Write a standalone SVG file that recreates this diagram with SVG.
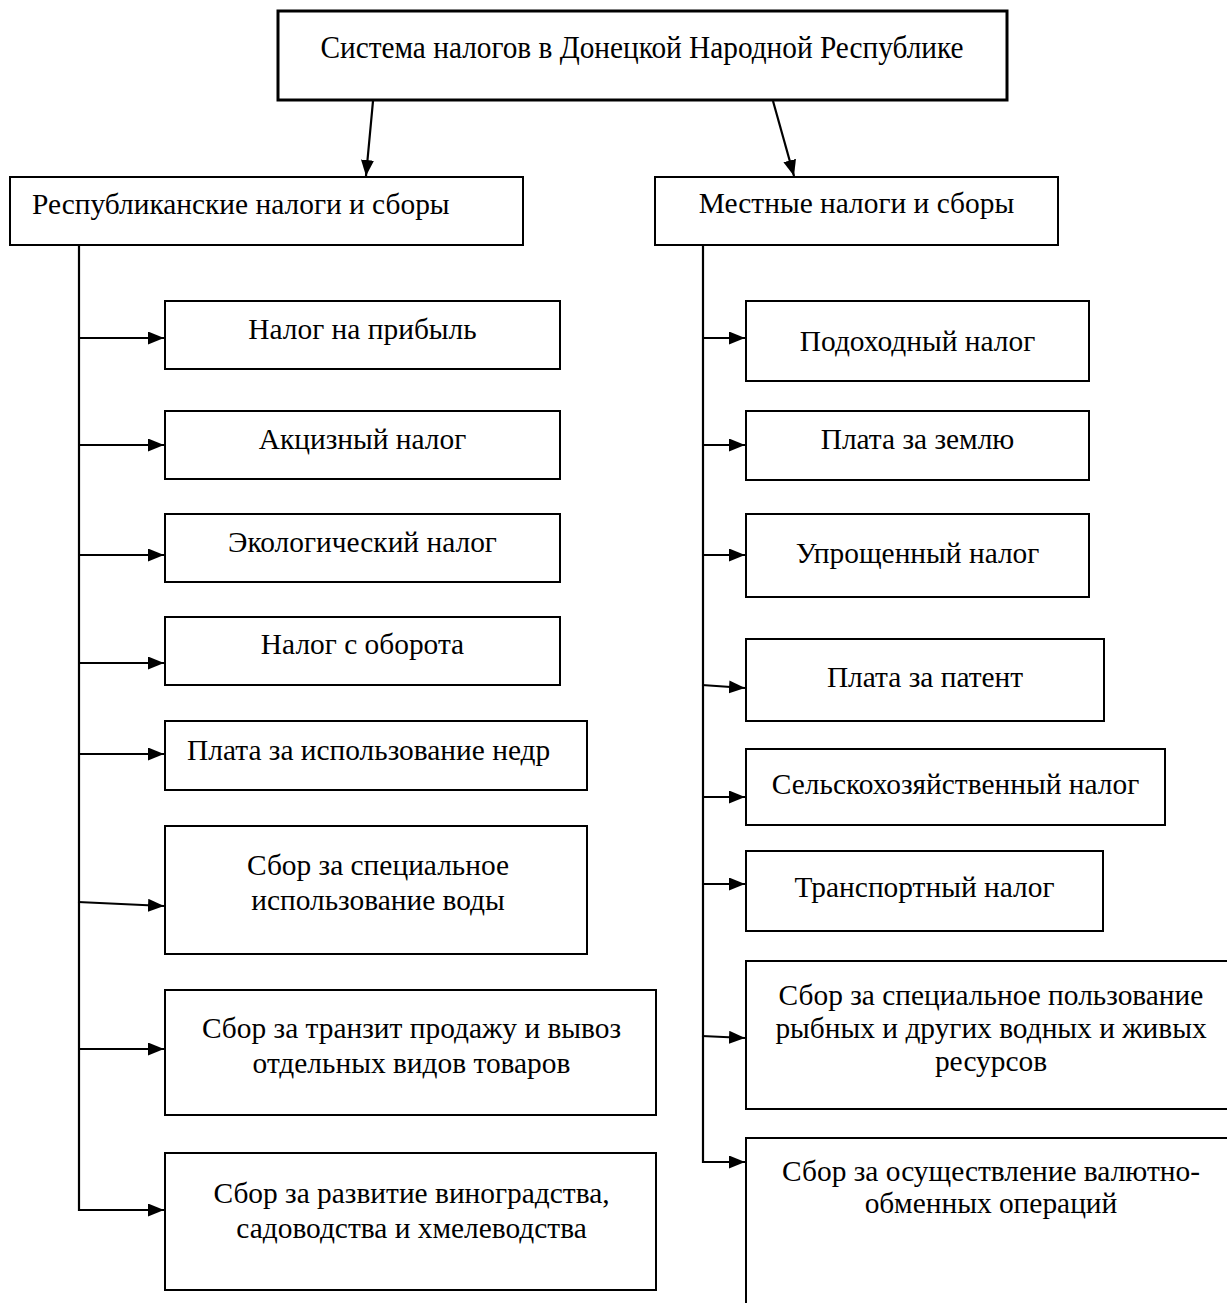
<svg xmlns="http://www.w3.org/2000/svg" width="1227" height="1303" viewBox="0 0 1227 1303">
<style>
.box{fill:#fff;stroke:#000;stroke-width:2}
.t{font-family:"Liberation Serif","Times New Roman",serif;font-size:29.4px;fill:#000;text-anchor:middle}
.c{stroke:#000;stroke-width:2.2;fill:none}
</style>
<defs>
<marker id="ah" markerUnits="userSpaceOnUse" markerWidth="18" markerHeight="14" refX="16" refY="6.5" orient="auto">
<path d="M0,0 L16,6.5 L0,13 z" fill="#000"/>
</marker>
</defs>
<rect width="1227" height="1303" fill="#fff"/>

<g id="root">
<rect class="box" x="278" y="11" width="729" height="89" style="stroke-width:3"/>
<text class="t" x="642" y="58" textLength="643" lengthAdjust="spacingAndGlyphs" style="font-size:32px">Система налогов в Донецкой Народной Республике</text>
</g>

<g id="rep">
<rect class="box" x="10" y="177" width="513" height="68"/>
<text class="t" x="32" y="214" style="text-anchor:start">Республиканские налоги и сборы</text>
</g>
<g id="loc">
<rect class="box" x="655" y="177" width="403" height="68"/>
<text class="t" x="856.5" y="213">Местные налоги и сборы</text>
</g>

<g id="r1"><rect class="box" x="165" y="301" width="395" height="68"/><text class="t" x="362.5" y="339">Налог на прибыль</text></g>
<g id="r2"><rect class="box" x="165" y="411" width="395" height="68"/><text class="t" x="362.5" y="449">Акцизный налог</text></g>
<g id="r3"><rect class="box" x="165" y="514" width="395" height="68"/><text class="t" x="362.5" y="552">Экологический налог</text></g>
<g id="r4"><rect class="box" x="165" y="617" width="395" height="68"/><text class="t" x="362.5" y="654">Налог с оборота</text></g>
<g id="r5"><rect class="box" x="165" y="721" width="422" height="69"/><text class="t" x="187" y="760" style="text-anchor:start">Плата за использование недр</text></g>
<g id="r6"><rect class="box" x="165" y="826" width="422" height="128"/><text class="t" x="378" y="875">Сбор за специальное</text><text class="t" x="378" y="910">использование воды</text></g>
<g id="r7"><rect class="box" x="165" y="990" width="491" height="125"/><text class="t" x="411.5" y="1038">Сбор за транзит продажу и вывоз</text><text class="t" x="411.5" y="1073">отдельных видов товаров</text></g>
<g id="r8"><rect class="box" x="165" y="1153" width="491" height="137"/><text class="t" x="411.5" y="1203">Сбор за развитие виноградства,</text><text class="t" x="411.5" y="1238">садоводства и хмелеводства</text></g>

<g id="l1"><rect class="box" x="746" y="301" width="343" height="80"/><text class="t" x="917.5" y="351">Подоходный налог</text></g>
<g id="l2"><rect class="box" x="746" y="411" width="343" height="69"/><text class="t" x="917.5" y="449">Плата за землю</text></g>
<g id="l3"><rect class="box" x="746" y="514" width="343" height="83"/><text class="t" x="917.5" y="563">Упрощенный налог</text></g>
<g id="l4"><rect class="box" x="746" y="639" width="358" height="82"/><text class="t" x="925" y="687">Плата за патент</text></g>
<g id="l5"><rect class="box" x="746" y="749" width="419" height="76"/><text class="t" x="955.5" y="794">Сельскохозяйственный налог</text></g>
<g id="l6"><rect class="box" x="746" y="851" width="357" height="80"/><text class="t" x="924.5" y="897">Транспортный налог</text></g>
<g id="l7"><rect class="box" x="746" y="961" width="492" height="148"/><text class="t" x="991" y="1005">Сбор за специальное пользование</text><text class="t" x="991" y="1038">рыбных и других водных и живых</text><text class="t" x="991" y="1071">ресурсов</text></g>
<g id="l8"><rect class="box" x="746" y="1138" width="492" height="180"/><text class="t" x="991" y="1181">Сбор за осуществление валютно-</text><text class="t" x="991" y="1213">обменных операций</text></g>

<g id="connectors">
<line class="c" x1="373" y1="101" x2="366" y2="176" marker-end="url(#ah)"/>
<line class="c" x1="773" y1="101" x2="794" y2="176" marker-end="url(#ah)"/>
<line class="c" x1="79" y1="245" x2="79" y2="1211"/>
<line class="c" x1="78" y1="338" x2="164" y2="338" marker-end="url(#ah)"/>
<line class="c" x1="78" y1="445" x2="164" y2="445" marker-end="url(#ah)"/>
<line class="c" x1="78" y1="555" x2="164" y2="555" marker-end="url(#ah)"/>
<line class="c" x1="78" y1="663" x2="164" y2="663" marker-end="url(#ah)"/>
<line class="c" x1="78" y1="754" x2="164" y2="754" marker-end="url(#ah)"/>
<line class="c" x1="78" y1="902" x2="164" y2="906" marker-end="url(#ah)"/>
<line class="c" x1="78" y1="1049" x2="164" y2="1049" marker-end="url(#ah)"/>
<line class="c" x1="78" y1="1210" x2="164" y2="1210" marker-end="url(#ah)"/>
<line class="c" x1="703" y1="245" x2="703" y2="1163"/>
<line class="c" x1="702" y1="338" x2="745" y2="338" marker-end="url(#ah)"/>
<line class="c" x1="702" y1="445" x2="745" y2="445" marker-end="url(#ah)"/>
<line class="c" x1="702" y1="555" x2="745" y2="555" marker-end="url(#ah)"/>
<line class="c" x1="702" y1="685" x2="745" y2="688" marker-end="url(#ah)"/>
<line class="c" x1="702" y1="797" x2="745" y2="797" marker-end="url(#ah)"/>
<line class="c" x1="702" y1="884" x2="745" y2="884" marker-end="url(#ah)"/>
<line class="c" x1="702" y1="1036" x2="745" y2="1038" marker-end="url(#ah)"/>
<line class="c" x1="702" y1="1162" x2="745" y2="1162" marker-end="url(#ah)"/>
</g>
</svg>
